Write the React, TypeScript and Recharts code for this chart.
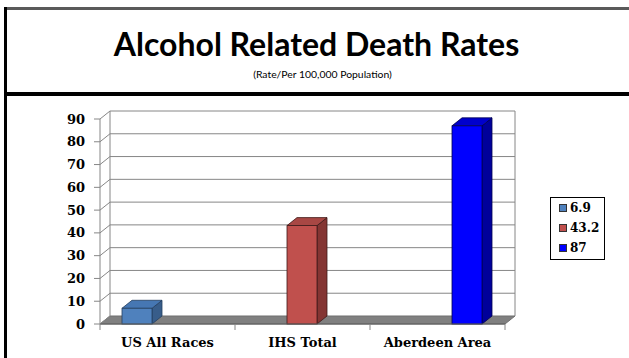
import { BarChart, Bar, XAxis, YAxis, CartesianGrid, Legend } from 'recharts';

const categories = ['US All Races', 'IHS Total', 'Aberdeen Area'];
const usAllRaces = [6.9, null, null];
const ihsTotal = [null, 43.2, null];
const aberdeenArea = [null, null, 87];
const seriesNames = ['6.9', '43.2', '87'];
const yTicks = [0, 10, 20, 30, 40, 50, 60, 70, 80, 90];

const data = categories.map((name, i) => ({
  name,
  usAllRaces: usAllRaces[i],
  ihsTotal: ihsTotal[i],
  aberdeenArea: aberdeenArea[i],
}));

// oblique depth of the 3d wall, floor and columns
const DX = 10;
const DY = 8;

const WIDTH = 629;
const HEIGHT = 358;
const MARGIN = { top: 119, right: 124, bottom: 4, left: 60 };
const Y_AXIS_WIDTH = 40;
const PLOT_WIDTH = WIDTH - MARGIN.left - MARGIN.right - Y_AXIS_WIDTH;
const HALF_BAND = PLOT_WIDTH / categories.length / 2;

const WALL = '#868686';
const LABEL_FONT = '"DejaVu Serif", "Liberation Serif", serif';

const makeColumn = (front: string, top: string, side: string, edge: string) => (props: any) => {
  const { x, y, width, height } = props;
  if (!height || height <= 0) return <g />;
  const r = x + width;
  const b = y + height;
  return (
    <g>
      <polygon
        points={`${r},${y} ${r + DX},${y - DY} ${r + DX},${b - DY} ${r},${b}`}
        fill={side}
        stroke={edge}
        strokeWidth={0.8}
      />
      <polygon
        points={`${x},${y} ${x + DX},${y - DY} ${r + DX},${y - DY} ${r},${y}`}
        fill={top}
        stroke={edge}
        strokeWidth={0.8}
      />
      <rect x={x} y={y} width={width} height={height} fill={front} stroke={edge} strokeWidth={0.8} />
    </g>
  );
};

// each grid line becomes a back-wall line plus the slanted line on the side wall;
// the zero line is drawn as the grey floor
const wallLine = (props: any) => {
  const { x1, y1, x2, y, height } = props;
  const floor = Math.abs(y1 - (y + height)) < 0.5;
  const ceiling = Math.abs(y1 - y) < 0.5;
  return (
    <g>
      {floor ? (
        <polygon
          points={`${x1},${y1} ${x1 + DX},${y1 - DY} ${x2 + DX},${y1 - DY} ${x2},${y1}`}
          fill="#808080"
          stroke="#6e6e6e"
          strokeWidth={1}
        />
      ) : (
        <line x1={x1 + DX} y1={y1 - DY} x2={x2 + DX} y2={y1 - DY} stroke={WALL} strokeWidth={1} />
      )}
      <line x1={x1} y1={y1} x2={x1 + DX} y2={y1 - DY} stroke={WALL} strokeWidth={1} />
      {ceiling && (
        <>
          <line x1={x1 + DX} y1={y1 - DY} x2={x1 + DX} y2={y + height - DY} stroke={WALL} strokeWidth={1} />
          <line x1={x2 + DX} y1={y1 - DY} x2={x2 + DX} y2={y + height - DY} stroke={WALL} strokeWidth={1} />
        </>
      )}
    </g>
  );
};

const ValueTick = ({ x, y, payload }: any) => (
  <g>
    <line x1={x - 6} y1={y} x2={x} y2={y} stroke={WALL} />
    <text
      x={x - 15}
      y={y}
      dy={4.6}
      textAnchor="end"
      fill="#000"
      style={{ fontFamily: LABEL_FONT, fontWeight: 700, fontSize: 13 }}
    >
      {payload.value}
    </text>
  </g>
);

const CategoryTick = ({ x, y, payload, index }: any) => (
  <g>
    <line x1={x - HALF_BAND} y1={y} x2={x - HALF_BAND} y2={y + 6} stroke={WALL} />
    {index === categories.length - 1 && (
      <line x1={x + HALF_BAND} y1={y} x2={x + HALF_BAND} y2={y + 6} stroke={WALL} />
    )}
    <text
      x={x}
      y={y + 23}
      textAnchor="middle"
      fill="#000"
      style={{ fontFamily: LABEL_FONT, fontWeight: 700, fontSize: 13 }}
    >
      {payload.value}
    </text>
  </g>
);

// keep the legend in series order rather than sorted by label
const LegendBox = ({ payload }: any) => {
  const items = [...(payload || [])].sort(
    (a: any, b: any) => seriesNames.indexOf(a.value) - seriesNames.indexOf(b.value)
  );
  return (
    <div
      style={{
        border: '1px solid #000',
        background: '#fff',
        padding: '0 0 1px 8px',
        width: 55,
        boxSizing: 'border-box',
      }}
    >
      {items.map((entry: any) => (
        <div key={entry.value} style={{ display: 'flex', alignItems: 'center', height: 20 }}>
          <span
            style={{
              display: 'inline-block',
              width: 8,
              height: 8,
              boxSizing: 'border-box',
              background: entry.color,
              border: '1px solid #333',
              marginRight: 3,
            }}
          />
          <span style={{ fontFamily: LABEL_FONT, fontWeight: 700, fontSize: 12, color: '#000' }}>
            {entry.value}
          </span>
        </div>
      ))}
    </div>
  );
};

export default function App() {
  return (
    <div
      style={{
        position: 'absolute',
        left: 0,
        top: 0,
        width: WIDTH,
        height: HEIGHT,
        overflow: 'hidden',
        background: '#fff',
      }}
    >
      <div style={{ position: 'absolute', left: 4, top: 7, width: WIDTH - 4, height: 3, background: '#5a5a5a' }} />
      <div style={{ position: 'absolute', left: 4, top: 7, width: 3, height: HEIGHT - 7, background: '#000' }} />
      <div style={{ position: 'absolute', left: 4, top: 92, width: WIDTH - 4, height: 4, background: '#000' }} />

      <div
        style={{
          position: 'absolute',
          left: 4,
          width: WIDTH - 4,
          top: 25,
          textAlign: 'center',
          fontFamily: 'Lato, "Open Sans", sans-serif',
          fontWeight: 700,
          fontSize: 32,
          lineHeight: '38px',
          color: '#000',
        }}
      >
        Alcohol Related Death Rates
      </div>
      <div
        style={{
          position: 'absolute',
          left: 10,
          width: WIDTH - 4,
          top: 68,
          textAlign: 'center',
          fontFamily: 'Lato, "Open Sans", sans-serif',
          fontSize: 10.4,
          lineHeight: '12px',
          color: '#000',
        }}
      >
        (Rate/Per 100,000 Population)
      </div>

      <div style={{ position: 'absolute', left: 0, top: 0 }}>
        <BarChart width={WIDTH} height={HEIGHT} data={data} margin={MARGIN} barGap={0} barCategoryGap={22}>
          <CartesianGrid vertical={false} horizontal={wallLine} />
          <XAxis
            dataKey="name"
            height={30}
            tickSize={0}
            tickMargin={0}
            tickLine={false}
            axisLine={{ stroke: '#5f5f5f' }}
            tick={<CategoryTick />}
            interval={0}
          />
          <YAxis
            width={Y_AXIS_WIDTH}
            domain={[0, 90]}
            ticks={yTicks}
            tickSize={0}
            tickMargin={0}
            tickLine={false}
            axisLine={{ stroke: WALL }}
            tick={<ValueTick />}
            interval={0}
          />
          <Legend
            layout="horizontal"
            align="center"
            verticalAlign="middle"
            content={<LegendBox />}
            wrapperStyle={{ left: 550, top: 197, width: 55, height: 'auto' }}
          />
          <Bar
            dataKey="usAllRaces"
            name={seriesNames[0]}
            fill="#4F81BD"
            isAnimationActive={false}
            shape={makeColumn('#4F81BD', '#4677B3', '#385D8A', '#243F60')}
          />
          <Bar
            dataKey="ihsTotal"
            name={seriesNames[1]}
            fill="#C0504D"
            isAnimationActive={false}
            shape={makeColumn('#C0504D', '#A84744', '#843533', '#3f1a19')}
          />
          <Bar
            dataKey="aberdeenArea"
            name={seriesNames[2]}
            fill="#0000FF"
            isAnimationActive={false}
            shape={makeColumn('#0000FF', '#0000CC', '#00009A', '#000050')}
          />
        </BarChart>
      </div>
    </div>
  );
}
